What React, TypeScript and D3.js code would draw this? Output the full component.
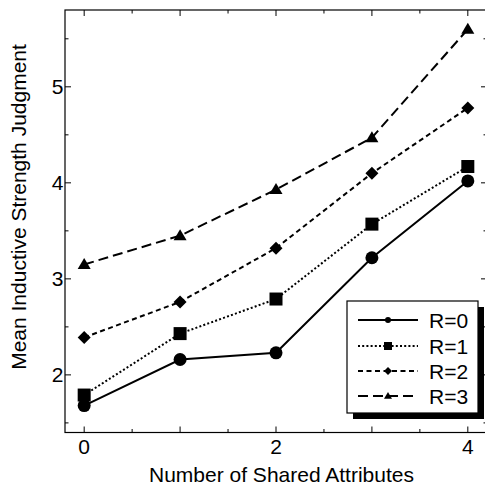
import React from "react";
import * as d3 from "d3";

const xValues = [0, 1, 2, 3, 4];
const seriesNames = ["R=0", "R=1", "R=2", "R=3"];
const r0 = [1.68, 2.16, 2.23, 3.22, 4.02];
const r1 = [1.79, 2.43, 2.79, 3.57, 4.17];
const r2 = [2.39, 2.76, 3.32, 4.10, 4.78];
const r3 = [3.15, 3.45, 3.93, 4.47, 5.60];
const xTicks = [0, 2, 4];
const yTicks = [2, 3, 4, 5];
const xMinor = [0, 0.5, 1, 1.5, 2, 2.5, 3, 3.5, 4];
const yMinor = [1.5, 2, 2.5, 3, 3.5, 4, 4.5, 5, 5.5];

const W = 485, H = 484;
const L = 65, T = 10, R = 487, B = 432.5;
const FONT = "Liberation Sans, Arial, Helvetica, sans-serif";

const seriesData = [r0, r1, r2, r3];
const dashes = ["", "2,2.2", "5,3.5", "10,5"];
const markers = ["circle", "square", "diamond", "triangle"];

function Marker({ kind, x, y, s }: { kind: string; x: number; y: number; s: number }) {
  if (kind === "circle") return <circle cx={x} cy={y} r={s * 0.5} fill="black" />;
  if (kind === "square")
    return <rect x={x - s * 0.5} y={y - s * 0.5} width={s} height={s} fill="black" />;
  if (kind === "diamond") {
    const h = s * 0.5;
    return <path d={`M${x},${y - h}L${x + h},${y}L${x},${y + h}L${x - h},${y}Z`} fill="black" />;
  }
  const h = s * 0.5;
  return <path d={`M${x},${y - h}L${x + h},${y + h * 0.7}L${x - h},${y + h * 0.7}Z`} fill="black" />;
}

export default function App() {
  const x = d3.scaleLinear().domain([-0.2, 4.2]).range([L, R]);
  const y = d3.scaleLinear().domain([1.4, 5.8]).range([B, T]);
  const line = d3
    .line<number>()
    .x((_, i) => x(xValues[i]))
    .y((d) => y(d));

  const legX0 = 347, legY0 = 301, legW = 131, legH = 112;
  const legRows = [320, 346, 371, 396];

  return (
    <svg
      width={W}
      height={H}
      style={{ position: "absolute", left: 0, top: 0, background: "white" }}
      fontFamily={FONT}
    >
      <rect x={0} y={0} width={W} height={H} fill="white" />
      {xMinor.map((t) => {
        const major = t % 1 === 0;
        const len = major ? 6 : 3.5;
        return (
          <g key={"xt" + t} stroke="black" strokeWidth={1}>
            <line x1={x(t)} x2={x(t)} y1={B} y2={B - len} />
            <line x1={x(t)} x2={x(t)} y1={T} y2={T + len} />
          </g>
        );
      })}
      {yMinor.map((t) => {
        const major = t % 1 === 0;
        const len = major ? 6 : 3.5;
        return (
          <g key={"yt" + t} stroke="black" strokeWidth={1}>
            <line x1={L} x2={L + len} y1={y(t)} y2={y(t)} />
            <line x1={R} x2={R - len} y1={y(t)} y2={y(t)} />
          </g>
        );
      })}
      <rect x={L} y={T} width={R - L} height={B - T} fill="none" stroke="black" strokeWidth={1.2} />
      {xTicks.map((t) => (
        <text key={"xl" + t} x={x(t)} y={454} textAnchor="middle" fontSize={21}>
          {t}
        </text>
      ))}
      {yTicks.map((t) => (
        <text key={"yl" + t} x={63.5} y={y(t) + 7.6} textAnchor="end" fontSize={21}>
          {t}
        </text>
      ))}
      <text x={281.5} y={481.5} textAnchor="middle" fontSize={21}>
        Number of Shared Attributes
      </text>
      <text transform={`translate(26,207) rotate(-90)`} textAnchor="middle" fontSize={21}>
        Mean Inductive Strength Judgment
      </text>
      {seriesData.map((s, k) => (
        <g key={"s" + k}>
          <path
            d={line(s) || ""}
            fill="none"
            stroke="black"
            strokeWidth={2}
            strokeDasharray={dashes[k] || undefined}
          />
          {s.map((v, i) => (
            <Marker key={i} kind={markers[k]} x={x(xValues[i])} y={y(v)} s={13} />
          ))}
        </g>
      ))}
      <rect x={legX0 + 6} y={legY0 + 6} width={legW} height={legH} fill="black" />
      <rect x={legX0} y={legY0} width={legW} height={legH} fill="white" stroke="black" strokeWidth={1.2} />
      {seriesNames.map((n, k) => (
        <g key={"l" + k}>
          <line
            x1={358}
            x2={418}
            y1={legRows[k]}
            y2={legRows[k]}
            stroke="black"
            strokeWidth={2}
            strokeDasharray={dashes[k] || undefined}
          />
          <Marker kind={markers[k]} x={388} y={legRows[k]} s={k === 0 ? 6 : 8} />
          <text x={429} y={legRows[k] + 7.6} fontSize={21}>
            {n}
          </text>
        </g>
      ))}
    </svg>
  );
}
